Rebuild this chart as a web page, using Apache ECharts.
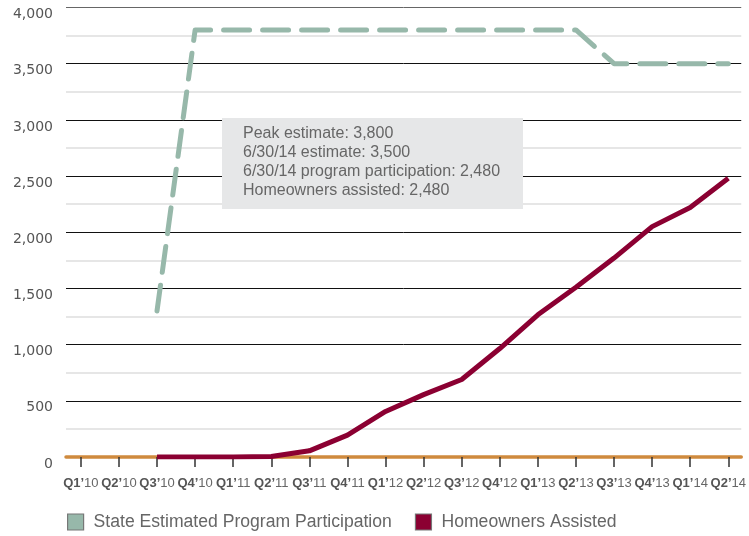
<!DOCTYPE html>
<html>
<head>
<meta charset="utf-8">
<script src="https://cdn.jsdelivr.net/npm/echarts@6/dist/echarts.min.js"></script>
<style>html,body{margin:0;padding:0;background:#fff;}#c{width:749px;height:536px;}</style>
</head>
<body>
<div id="c"></div>
<script>
const quarters = ["Q1’10","Q2’10","Q3’10","Q4’10","Q1’11","Q2’11","Q3’11","Q4’11","Q1’12","Q2’12","Q3’12","Q4’12","Q1’13","Q2’13","Q3’13","Q4’13","Q1’14","Q2’14"];
const stateEstimated = [null,null,1300,3800,3800,3800,3800,3800,3800,3800,3800,3800,3800,3800,3500,3500,3500,3500];
const homeownersAssisted = [null,null,0,0,0,5,55,195,405,555,690,965,1265,1510,1770,2050,2220,2480];
const yTicks = [0,500,1000,1500,2000,2500,3000,3500,4000];
const noteLines = ["Peak estimate: 3,800","6/30/14 estimate: 3,500","6/30/14 program participation: 2,480","Homeowners assisted: 2,480"];
const seriesNames = ["State Estimated Program Participation","Homeowners Assisted"];

const toPairs = arr => arr.map((v,i)=>[i,v]).filter(p=>p[1]!==null);
const idx = quarters.map((q,i)=>i);

const chart = echarts.init(document.getElementById('c'), null, {renderer:'canvas'});
chart.setOption({
  animation:false,
  grid:{left:66,right:7,top:7.5,bottom:79,containLabel:false},
  xAxis:{
    type:'value', min:-0.39, max:17.34,
    splitLine:{show:false},
    axisLine:{show:true,lineStyle:{color:'#cf8a3e',width:3.5}},
    axisTick:{show:true,customValues:idx,length:10,lineStyle:{color:'#333',width:1.5}},
    axisLabel:{
      customValues:idx, margin:20,
      formatter:function(v){const q=quarters[Math.round(v)]; if(!q) return ''; const p=q.split('’'); return '{b|'+p[0]+'’}{n|'+p[1]+'}';},
      rich:{
        b:{fontFamily:'Liberation Sans',fontSize:13,fontWeight:'bold',color:'#555'},
        n:{fontFamily:'Liberation Sans',fontSize:13,color:'#666'}
      }
    }
  },
  yAxis:{
    type:'value', min:0, max:4000, interval:500,
    axisLine:{show:false}, axisTick:{show:false},
    axisLabel:{margin:13,verticalAlign:'top',lineHeight:14,fontFamily:'DejaVu Sans',fontSize:14,color:'#555',
      formatter:v=>v.toLocaleString('en-US')},
    splitLine:{show:true,lineStyle:{color:['#111','#111','#111','#111','#111','#111','#111','#111','#666'],width:1}},
    minorTick:{show:false,splitNumber:2},
    minorSplitLine:{show:true,lineStyle:{color:'#e6e6e6',width:2}}
  },
  legend:{
    left:67, top:513, padding:0, itemGap:23, itemWidth:16, itemHeight:16, icon:'rect',
    itemStyle:{borderColor:'#777',borderWidth:1.2,borderType:'solid'},
    textStyle:{fontFamily:'Liberation Sans',fontSize:17.6,color:'#666',padding:[0,0,0,5]},
    data:seriesNames
  },
  graphic:[{
    type:'group', left:222, top:118, z:100,
    children:[
      {type:'rect',z:100,shape:{x:0,y:0,width:301,height:91},style:{fill:'#e6e7e8'}},
      {type:'text',z:101,x:21,y:6.5,style:{text:noteLines.join('\n'),fontFamily:'Liberation Sans',fontSize:16,lineHeight:19,fill:'#666',verticalAlign:'top'}}
    ]
  }],
  series:[
    {name:seriesNames[0],type:'line',data:toPairs(stateEstimated),symbol:'none',
     itemStyle:{color:'#97b8aa'},
     lineStyle:{color:'#97b8aa',width:5,type:[26,13],cap:'round',join:'round'},z:3},
    {name:seriesNames[1],type:'line',data:toPairs(homeownersAssisted),symbol:'none',
     itemStyle:{color:'#8b0032'},
     lineStyle:{color:'#8b0032',width:5,join:'round'},z:4}
  ]
});
</script>
</body>
</html>
